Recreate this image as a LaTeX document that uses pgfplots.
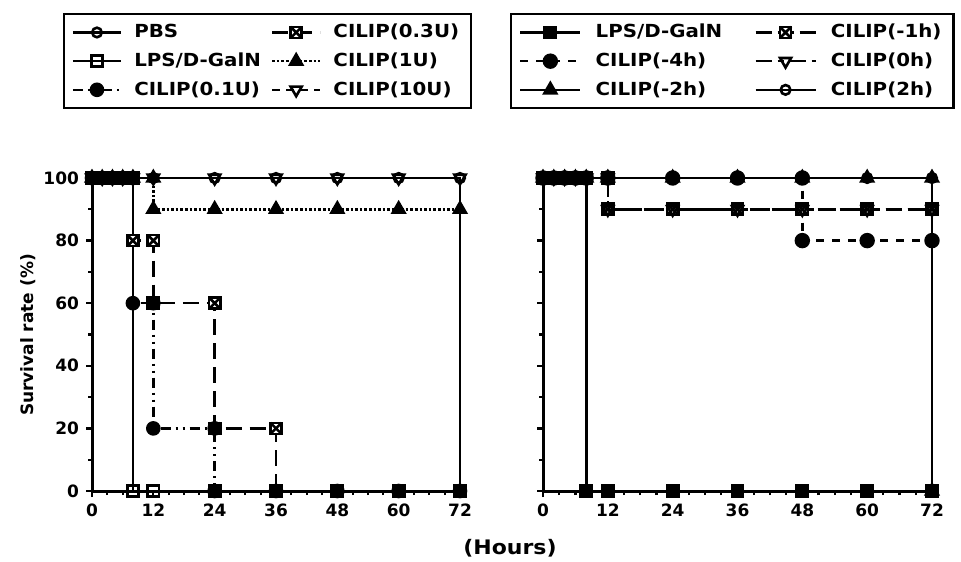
\documentclass[border=0pt]{standalone}
\usepackage{fontspec}
\setmainfont{DejaVu Sans}
\newfontfamily\legfont{DejaVu Sans}[FakeStretch=1.1]
\usepackage{pgfplots}
\pgfplotsset{compat=1.18}

% square with a cross inside
\pgfdeclareplotmark{boxx}{%
  \pgfpathrectangle{\pgfpoint{-\pgfplotmarksize}{-\pgfplotmarksize}}{\pgfpoint{2\pgfplotmarksize}{2\pgfplotmarksize}}%
  \pgfusepathqfillstroke
  \pgfpathmoveto{\pgfpoint{-\pgfplotmarksize}{-\pgfplotmarksize}}\pgfpathlineto{\pgfpoint{\pgfplotmarksize}{\pgfplotmarksize}}%
  \pgfpathmoveto{\pgfpoint{-\pgfplotmarksize}{\pgfplotmarksize}}\pgfpathlineto{\pgfpoint{\pgfplotmarksize}{-\pgfplotmarksize}}%
  \pgfusepathqstroke}

\pgfplotsset{
  km/.style={
    scale only axis, anchor=south west, height=156.5pt,
    xmin=0, xmax=72, ymin=0, ymax=100,
    xtick={0,12,...,72}, ytick={0,20,...,100},
    minor x tick num=3, minor y tick num=1,
    axis x line*=bottom, axis y line*=left,
    axis line style={line width=1.5pt,-},
    tick align=outside, major tick length=3pt, minor tick length=2pt,
    tick style={line width=1.1pt, black},
    clip=false,
    tick label style={font=\bfseries\fontsize{8.5}{9}\selectfont},
    /pgf/number format/assume math mode=true,
    every axis plot/.append style={line width=1.3pt, black, mark size=2.8pt},
    legend columns=2, legend cell align=left,
    legend style={draw=black, line width=1.1pt, anchor=north west,
      font=\legfont\bfseries\fontsize{9}{10}\selectfont,
      row sep=2pt, inner xsep=4pt, inner ysep=3pt},
  },
  mk/.style={mark options={solid, fill=white}},
  mkf/.style={mark options={solid, fill=black}},
}

\begin{document}
\begin{tikzpicture}
\useasboundingbox (0,0) rectangle (480.5pt,280.5pt);

\begin{axis}[km, at={(46pt,35pt)}, width=184pt,
  legend style={at={(-0.08,1.527)},
    /tikz/every odd column/.style={column sep=4pt},
    /tikz/every even column/.style={column sep=3pt}},
  legend image code/.code={\draw[mark repeat=2, mark phase=2, #1] plot coordinates {(0pt,0pt) (12pt,0pt) (24pt,0pt)};}]
\addplot[mk, mark=o, mark size=2.4pt] coordinates {(0,100)(2,100)(4,100)(6,100)(8,100)(12,100)(24,100)(36,100)(48,100)(60,100)(72,100)(72,0)};
\addlegendentry{PBS}
\addplot[mk, mark=boxx, dash pattern=on 8pt off 4pt] coordinates {(0,100)(2,100)(4,100)(6,100)(8,100)(8,80)(12,80)(12,60)(24,60)(24,20)(36,20)(36,0)(48,0)(60,0)(72,0)};
\addlegendentry{CILIP(0.3U)}
\addplot[mk, mark=square] coordinates {(0,100)(2,100)(4,100)(6,100)(8,100)(8,0)(12,0)(24,0)(36,0)(48,0)(60,0)(72,0)};
\addlegendentry{LPS/D-GalN}
\addplot[mkf, mark=triangle*, mark size=3.4pt, densely dotted] coordinates {(0,100)(2,100)(4,100)(6,100)(8,100)(12,100)(12,90)(24,90)(36,90)(48,90)(60,90)(72,90)};
\addlegendentry{CILIP(1U)}
\addplot[mkf, mark=*, mark size=3pt, dash pattern=on 5pt off 2.5pt on 1pt off 2.5pt on 1pt off 2.5pt] coordinates {(0,100)(2,100)(4,100)(6,100)(8,100)(8,60)(12,60)(12,20)(24,20)(24,0)(36,0)(48,0)(60,0)(72,0)};
\addlegendentry{CILIP(0.1U)}
\addplot[mark=triangle, mark size=3.2pt, mark options={solid, fill=white, rotate=180}, dash pattern=on 4pt off 3pt] coordinates {(0,100)(2,100)(4,100)(6,100)(8,100)(12,100)(24,100)(36,100)(48,100)(60,100)(72,100)};
\addlegendentry{CILIP(10U)}
\end{axis}

\begin{axis}[km, at={(271.5pt,35pt)}, width=194.5pt, yticklabels={},
  legend style={at={(-0.085,1.527)},
    /tikz/every odd column/.style={column sep=5pt},
    /tikz/every even column/.style={column sep=14pt}},
  legend image code/.code={\draw[mark repeat=2, mark phase=2, #1] plot coordinates {(0pt,0pt) (15pt,0pt) (30pt,0pt)};}]
\addplot[mark=square*, mark options={solid, fill=black}] coordinates {(0,100)(2,100)(4,100)(6,100)(8,100)(8,0)(12,0)(24,0)(36,0)(48,0)(60,0)(72,0)};
\addlegendentry{LPS/D-GalN}
\addplot[mk, mark=boxx, dash pattern=on 8pt off 3pt] coordinates {(0,100)(2,100)(4,100)(6,100)(8,100)(12,100)(12,90)(24,90)(36,90)(48,90)(60,90)(72,90)};
\addlegendentry{CILIP(-1h)}
\addplot[mkf, mark=*, mark size=3.2pt, dash pattern=on 4pt off 4pt] coordinates {(0,100)(2,100)(4,100)(6,100)(8,100)(12,100)(24,100)(36,100)(48,100)(48,80)(60,80)(72,80)};
\addlegendentry{CILIP(-4h)}
\addplot[mark=triangle, mark size=3.2pt, mark options={solid, fill=white, rotate=180}, dash pattern=on 8pt off 3pt on 3pt off 3pt] coordinates {(0,100)(2,100)(4,100)(6,100)(8,100)(12,100)(12,90)(24,90)(36,90)(48,90)(60,90)(72,90)};
\addlegendentry{CILIP(0h)}
\addplot[mkf, mark=triangle*, mark size=3.4pt] coordinates {(0,100)(2,100)(4,100)(6,100)(8,100)(12,100)(24,100)(36,100)(48,100)(60,100)(72,100)(72,0)};
\addlegendentry{CILIP(-2h)}
\addplot[mk, mark=o, mark size=2.4pt] coordinates {(0,100)(2,100)(4,100)(6,100)(8,100)(12,100)(24,100)(36,100)(48,100)(60,100)(72,100)};
\addlegendentry{CILIP(2h)}
\end{axis}

\node[font=\legfont\bfseries\fontsize{10}{11}\selectfont] at (255pt,6.5pt) {(Hours)};
\node[rotate=90, font=\bfseries\fontsize{8.5}{10}\selectfont] at (14pt,113pt) {Survival rate (\%)};
\end{tikzpicture}
\end{document}
